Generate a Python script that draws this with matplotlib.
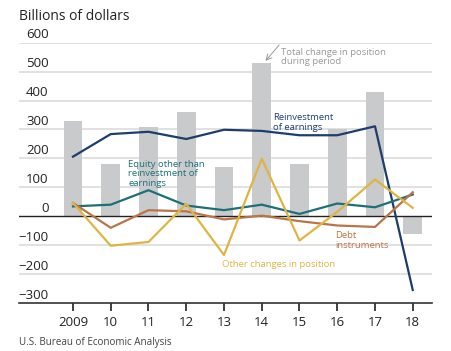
import matplotlib
matplotlib.use('Agg')
import matplotlib.pyplot as plt
import matplotlib.transforms as mtransforms

plt.rcParams['font.family'] = ['Open Sans', 'DejaVu Sans']

years = [2009, 2010, 2011, 2012, 2013, 2014, 2015, 2016, 2017, 2018]
year_labels = ['2009', '10', '11', '12', '13', '14', '15', '16', '17', '18']
total_change = [330, 180, 310, 360, 170, 530, 182, 300, 428, -60]
reinvestment = [206, 284, 292, 267, 299, 295, 280, 280, 311, -255]
equity_other = [34, 40, 90, 37, 21, 40, 8, 44, 31, 75]
debt = [46, -40, 21, 17, -11, 2, -17, -32, -37, 83]
other_changes = [46, -102, -89, 43, -134, 199, -84, 15, 127, 29]
y_ticks = [600, 500, 400, 300, 200, 100, 0, -100, -200, -300]

BAR = '#c9cacc'
NAVY = '#1d3d6b'
TEAL = '#1d6f78'
BROWN = '#bb7447'
GOLD = '#e0b443'
GRID = '#dcdcdc'

fig = plt.figure(figsize=(4.52, 3.51), dpi=100)
ax = fig.add_axes([19/452, 1 - 303/351, (432 - 19)/452, (303 - 42.7)/351])

ax.set_xlim(2007.57, 2018.51)
ax.set_ylim(-300, 600)

for v in y_ticks:
    if v == 0 or v == -300:
        continue
    ax.axhline(v, color=GRID, lw=1.2, zorder=0)
ax.axhline(0, color='#222222', lw=1.0, zorder=3)

ax.bar(years, total_change, width=0.5, color=BAR, zorder=1)

ax.plot(years, reinvestment, color=NAVY, lw=1.6, zorder=4)
ax.plot(years, equity_other, color=TEAL, lw=1.6, zorder=4)
ax.plot(years, debt, color=BROWN, lw=1.6, zorder=4)
ax.plot(years, other_changes, color=GOLD, lw=1.6, zorder=4)

for s in ['top', 'right', 'left']:
    ax.spines[s].set_visible(False)
ax.spines['bottom'].set_color('#333333')
ax.spines['bottom'].set_linewidth(1.2)
ax.set_yticks([])
ax.set_xticks(years)
ax.set_xticklabels(year_labels, fontsize=9.5, color='#222222')
ax.tick_params(axis='x', length=6, width=1.3, color='#333333', pad=3)

# y labels sit above their gridlines, right aligned
trans = mtransforms.blended_transform_factory(fig.transFigure, ax.transData)
for v in y_ticks:
    lab = str(v).replace('-', '\u2212')
    ax.text(48.5/452, v + 5, lab, transform=trans, fontsize=9.5, color='#222222',
            ha='right', va='bottom')

fig.text(19/452, 1 - 16/351, 'Billions of dollars', fontsize=10,
         color='#222222', ha='left', va='center')
fig.text(19/452, 1 - 343/351, 'U.S. Bureau of Economic Analysis', fontsize=7.1,
         color='#444444', ha='left', va='center')

ax.text(2014.5, 582, 'Total change in position\nduring period', fontsize=6.8,
        color='#999999', ha='left', va='top', linespacing=1.05)
ax.annotate('', xy=(2014.1, 537), xytext=(2014.46, 592),
            arrowprops=dict(arrowstyle='->', color='#999999', lw=0.7,
                            shrinkA=0, shrinkB=0))
ax.text(2014.3, 356, 'Reinvestment\nof earnings', fontsize=6.8, color=NAVY,
        ha='left', va='top', linespacing=1.05)
ax.text(2010.47, 195, 'Equity other than\nreinvestment of\nearnings',
        fontsize=6.8, color=TEAL, ha='left', va='top', linespacing=1.05)
ax.text(2015.95, -52, 'Debt\ninstruments', fontsize=6.8, color=BROWN,
        ha='left', va='top', linespacing=1.05)
ax.text(2012.95, -150, 'Other changes in position', fontsize=6.8, color=GOLD,
        ha='left', va='top')

fig.savefig('out.png', dpi=100)
